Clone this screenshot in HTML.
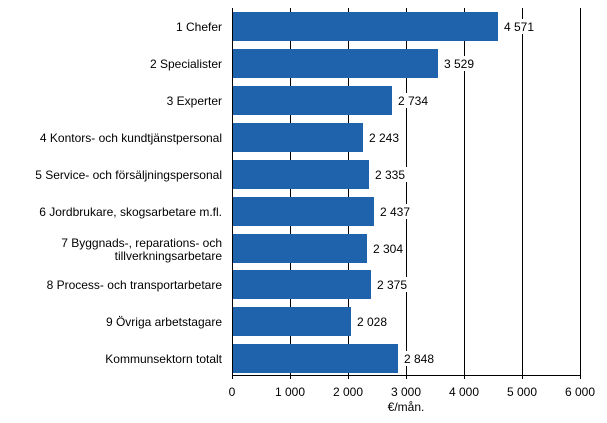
<!DOCTYPE html><html><head><meta charset="utf-8"><style>body{margin:0;background:#fff}</style></head><body>
<svg width="607" height="418" xmlns="http://www.w3.org/2000/svg" font-family="Liberation Sans, sans-serif" font-size="12">
<g stroke="#000" stroke-width="1">
<line x1="290.5" y1="8" x2="290.5" y2="379"/><line x1="348.5" y1="8" x2="348.5" y2="379"/><line x1="406.5" y1="8" x2="406.5" y2="379"/><line x1="464.5" y1="8" x2="464.5" y2="379"/><line x1="522.5" y1="8" x2="522.5" y2="379"/><line x1="580.5" y1="8" x2="580.5" y2="379"/>
<line x1="232.5" y1="8" x2="232.5" y2="379"/><line x1="232" y1="375.5" x2="581" y2="375.5"/>
</g>
<g fill="#1f63ad">
<rect x="233" y="12" width="265" height="29"/>
<rect x="233" y="49" width="205" height="29"/>
<rect x="233" y="86" width="159" height="29"/>
<rect x="233" y="123" width="130" height="29"/>
<rect x="233" y="160" width="136" height="29"/>
<rect x="233" y="197" width="141" height="29"/>
<rect x="233" y="234" width="134" height="29"/>
<rect x="233" y="270" width="138" height="29"/>
<rect x="233" y="307" width="118" height="29"/>
<rect x="233" y="344" width="165" height="29"/>
</g>
<g fill="#000">
<g fill="#fff"><rect x="502" y="19" width="34" height="15"/><rect x="442" y="56" width="34" height="15"/><rect x="396" y="93" width="34" height="15"/><rect x="367" y="130" width="34" height="15"/><rect x="373" y="167" width="34" height="15"/><rect x="378" y="204" width="34" height="15"/><rect x="371" y="241" width="34" height="15"/><rect x="375" y="277" width="34" height="15"/><rect x="355" y="314" width="34" height="15"/><rect x="402" y="351" width="34" height="15"/></g>
<text x="504" y="31">4 571</text><text x="444" y="68">3 529</text><text x="398" y="105">2 734</text><text x="369" y="142">2 243</text><text x="375" y="179">2 335</text><text x="380" y="216">2 437</text><text x="373" y="253">2 304</text><text x="377" y="289">2 375</text><text x="357" y="326">2 028</text><text x="404" y="363">2 848</text>
<g text-anchor="end">
<text x="222" y="31">1 Chefer</text>
<text x="222" y="68">2 Specialister</text>
<text x="222" y="105">3 Experter</text>
<text x="222" y="142">4 Kontors- och kundtjänstpersonal</text>
<text x="222" y="179">5 Service- och försäljningspersonal</text>
<text x="222" y="216">6 Jordbrukare, skogsarbetare m.fl.</text>
<text x="222" y="247">7 Byggnads-, reparations- och</text>
<text x="222" y="260">tillverkningsarbetare</text>
<text x="222" y="289">8 Process- och transportarbetare</text>
<text x="222" y="326">9 Övriga arbetstagare</text>
<text x="222" y="363">Kommunsektorn totalt</text>
</g>
<g text-anchor="middle">
<text x="232" y="396">0</text><text x="290" y="396">1 000</text><text x="348" y="396">2 000</text><text x="406" y="396">3 000</text><text x="464" y="396">4 000</text><text x="522" y="396">5 000</text><text x="580" y="396">6 000</text>
<text x="406" y="411">€/mån.</text>
</g>
</g>
</svg>
</body></html>
